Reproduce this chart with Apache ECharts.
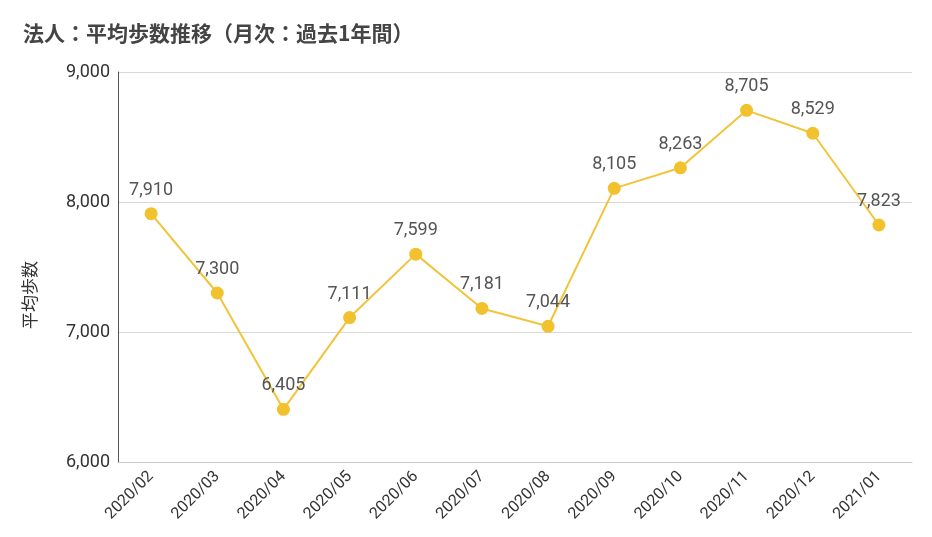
<!DOCTYPE html>
<html><head><meta charset="utf-8">
<script src="https://cdn.jsdelivr.net/npm/echarts@6/dist/echarts.min.js"></script>
<style>html,body{margin:0;padding:0;background:#fff}#c{width:932px;height:537px}</style>
</head><body><div id="c"></div>
<script>
const categories = ['2020/02','2020/03','2020/04','2020/05','2020/06','2020/07','2020/08','2020/09','2020/10','2020/11','2020/12','2021/01'];
const steps = [7910,7300,6405,7111,7599,7181,7044,8105,8263,8705,8529,7823];
const yTicks = {min: 6000, max: 9000, interval: 1000};
const titleText = '法人：平均歩数推移（月次：過去1年間）';
const yName = '平均歩数';

const font = 'Roboto, "Noto Sans CJK JP", sans-serif';
const cjk = '"Noto Sans CJK JP", sans-serif';
const chart = echarts.init(document.getElementById('c'));
chart.setOption({
  animation: false,
  textStyle: {fontFamily: font},
  title: {text: titleText, left: 18, top: 18,
    textStyle: {fontSize: 21, fontWeight: 'bold', color: '#444', fontFamily: cjk}},
  grid: {left: 118, right: 20, top: 72, bottom: 75},
  xAxis: {type: 'category', data: categories, boundaryGap: true,
    axisLine: {lineStyle: {color: '#ccc'}}, axisTick: {show: false},
    axisLabel: {rotate: 45, color: '#333', fontSize: 16, margin: 12, interval: 0}},
  yAxis: {type: 'value', min: yTicks.min, max: yTicks.max, interval: yTicks.interval,
    name: yName, nameLocation: 'middle', nameGap: 80, nameRotate: 90,
    nameTextStyle: {fontSize: 17, color: '#333', fontFamily: cjk, padding: [0, 56, 0, 0]},
    axisLine: {show: true, lineStyle: {color: '#555'}}, axisTick: {show: false},
    splitLine: {lineStyle: {color: '#d9d9d9'}},
    axisLabel: {color: '#333', fontSize: 18, margin: 8,
      formatter: v => v.toLocaleString('en-US')}},
  series: [{type: 'line', data: steps, symbol: 'circle', symbolSize: 13,
    lineStyle: {color: '#f2c43a', width: 2},
    itemStyle: {color: '#f2c12e'},
    label: {show: true, position: 'top', distance: 8, color: '#555', fontSize: 18,
      formatter: p => p.value.toLocaleString('en-US')}}]
});
</script></body></html>
